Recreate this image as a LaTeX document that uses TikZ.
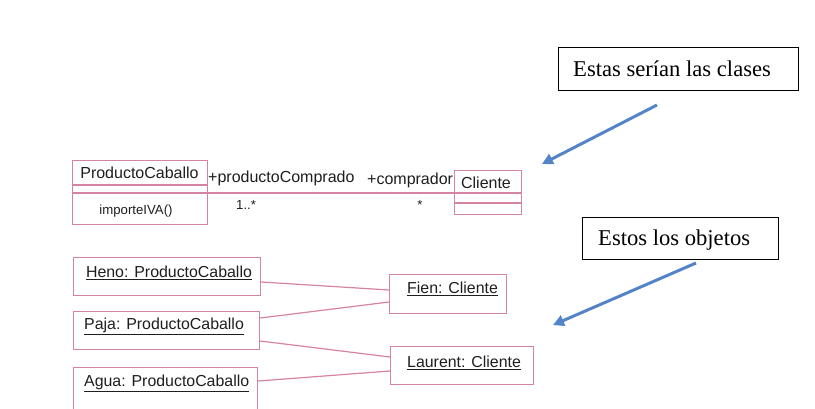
\documentclass[tikz,border=0pt]{standalone}
\usepackage{fontspec}
\setmainfont{Liberation Serif}
\setsansfont{Liberation Sans}
\usetikzlibrary{arrows.meta,calc}
\definecolor{umlpink}{RGB}{214,130,162}
\definecolor{arrowblue}{RGB}{84,132,200}
\definecolor{txt}{RGB}{30,30,30}
\tikzset{
  umlbox/.style={draw=umlpink, line width=1.2pt, rectangle, inner sep=0pt, anchor=north west},
  umlline/.style={draw=umlpink, line width=1.2pt},
  umltext/.style={font=\sffamily\fontsize{16}{18}\selectfont, text=txt, inner sep=0pt},
  smalltext/.style={font=\sffamily\fontsize{13.2}{15}\selectfont, text=txt, inner sep=0pt},
  objtext/.style={font=\sffamily\fontsize{15.9}{18}\selectfont, text=txt, inner sep=0pt},
  notebox/.style={draw=black, line width=1pt, rectangle, inner sep=0pt, anchor=north west},
  notetext/.style={font=\fontsize{22.6}{26}\selectfont, text=black, inner sep=0pt, anchor=west},
  bluearrow/.style={draw=arrowblue, line width=3pt, -{Triangle[length=11pt,width=11pt]}}
}
\begin{document}
\begin{tikzpicture}[x=1pt,y=-1pt]
\useasboundingbox (0,0) rectangle (815,408);
% class ProductoCaballo
\node[umlbox, minimum width=135pt, minimum height=64pt] (pc) at (72,160) {};
\node[umltext] (pcname) at (139.5,173) {ProductoCaballo};
\node[smalltext] (pcop) at (136,211) {importeIVA()};
\draw[umlline] (pc.west |- 0,185) -- (pc.east |- 0,185);
\draw[umlline] (pc.west |- 0,193) -- (pc.east |- 0,193);
% class Cliente
\node[umlbox, minimum width=67pt, minimum height=44pt] (cl) at (454,170) {};
\node[umltext] (clname) at (486,183) {Cliente};
\draw[umlline] (cl.west |- 0,193) -- (cl.east |- 0,193);
\draw[umlline] (cl.west |- 0,203) -- (cl.east |- 0,203);
% association
\draw[umlline] (pc.east |- 0,193) -- (cl.west |- 0,193);
\node[umltext, anchor=west] (role1) at (208,178) {+productoComprado};
\node[umltext, anchor=west] (role2) at (367,180) {+comprador};
\node[smalltext, anchor=west] (mult1) at (236,205) {1..*};
\node[smalltext] (mult2) at (420,205) {*};
% objects
\node[umlbox, minimum width=187pt, minimum height=38pt] (heno) at (73,257) {};
\node[objtext] (henot) at (169,273) {\underline{Heno: ProductoCaballo}};
\node[umlbox, minimum width=186pt, minimum height=38pt] (paja) at (73,311) {};
\node[objtext, anchor=west] (pajat) at (84,326) {\underline{Paja: ProductoCaballo}};
\node[umlbox, minimum width=184pt, minimum height=42pt] (agua) at (73,367) {};
\node[objtext, anchor=west] (aguat) at (84,383) {\underline{Agua: ProductoCaballo}};
\node[umlbox, minimum width=117pt, minimum height=39pt] (fien) at (389,274) {};
\node[objtext, anchor=west] (fient) at (407,289) {\underline{Fien: Cliente}};
\node[umlbox, minimum width=143pt, minimum height=38pt] (laur) at (390,346) {};
\node[objtext, anchor=west] (laurt) at (407,363) {\underline{Laurent: Cliente}};
% links
\draw[umlline] (heno.east |- 0,282) -- (fien.west |- 0,290);
\draw[umlline] (paja.east |- 0,318) -- (fien.west |- 0,302);
\draw[umlline] (paja.east |- 0,341) -- (laur.west |- 0,357);
\draw[umlline] (agua.east |- 0,381) -- (laur.west |- 0,371);
% notes
\node[notebox, minimum width=240pt, minimum height=43pt] (n1) at (558,47) {};
\node[notetext] (n1t) at (573,69) {Estas serían las clases};
\node[notebox, minimum width=196pt, minimum height=42pt] (n2) at (582,217) {};
\node[notetext] (n2t) at (598,240) {Estos los objetos};
\coordinate (a1s) at (657,105);
\coordinate (a1e) at (542,164);
\coordinate (a2s) at (696,263);
\coordinate (a2e) at (553,325);
\draw[bluearrow] (a1s) -- (a1e);
\draw[bluearrow] (a2s) -- (a2e);
\end{tikzpicture}
\end{document}
